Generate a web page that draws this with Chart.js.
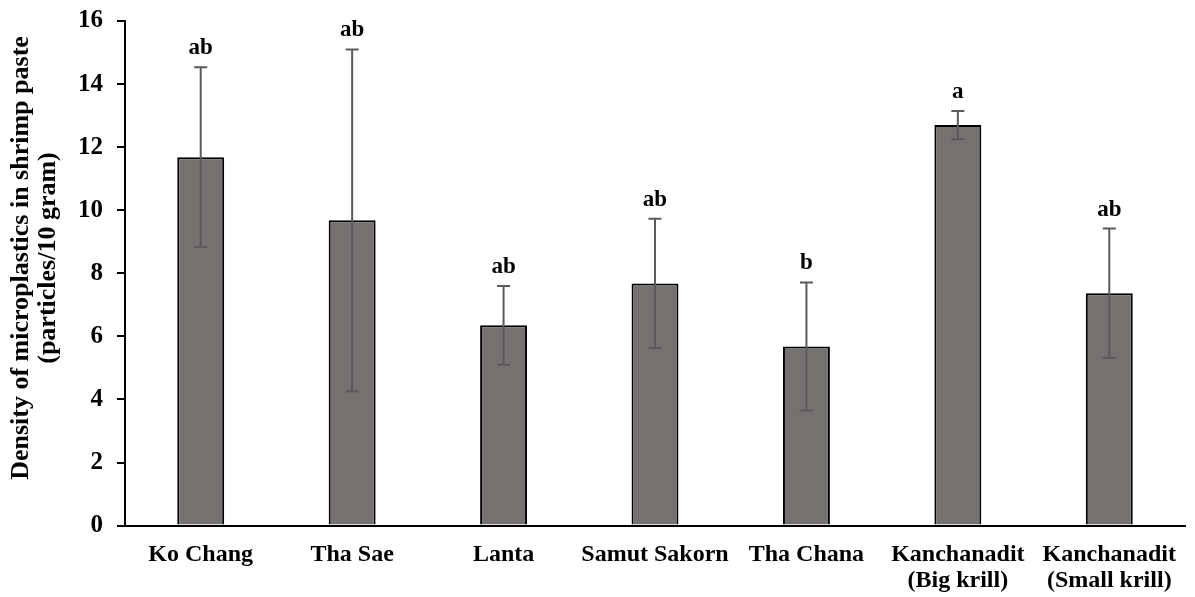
<!DOCTYPE html>
<html>
<head>
<meta charset="utf-8">
<script src="https://cdn.jsdelivr.net/npm/chart.js@4/dist/chart.umd.min.js"></script>
<style>
    html, body { margin: 0; padding: 0; background: #fff; }
    #wrap { width: 1195px; height: 597px; }
</style>
</head>
<body>
<div id="wrap"><canvas id="chart"></canvas></div>
<script>
// ============================================================
// DATA
// ============================================================
const sites = [
    'Ko Chang', 'Tha Sae', 'Lanta', 'Samut Sakorn', 'Tha Chana',
    ['Kanchanadit', '(Big krill)'], ['Kanchanadit', '(Small krill)']
];
const density = [11.68, 9.68, 6.35, 7.68, 5.68, 12.70, 7.37];
const densitySd = [2.85, 5.42, 1.25, 2.05, 2.03, 0.45, 2.05];
const groupLetters = ['ab', 'ab', 'ab', 'ab', 'b', 'a', 'ab'];
const yTicks = [0, 2, 4, 6, 8, 10, 12, 14, 16];
const yTitle = ['Density of microplastics in shrimp paste', '(particles/10 gram)'];

const FONT = "'Liberation Serif', 'Times New Roman', serif";

// ============================================================
// ERROR BARS + SIGNIFICANCE LETTERS
// ============================================================
const errorBarPlugin = {
    id: 'errorBars',
    afterDatasetsDraw: function (chart) {
        var ctx = chart.ctx;
        var meta = chart.getDatasetMeta(0);
        var y = chart.scales.y;
        ctx.save();
        meta.data.forEach(function (bar, i) {
            var hi = y.getPixelForValue(density[i] + densitySd[i]);
            var lo = y.getPixelForValue(density[i] - densitySd[i]);
            var cx = bar.x;
            ctx.strokeStyle = '#5a5a5a';
            ctx.lineWidth = 2;
            ctx.beginPath();
            ctx.moveTo(cx, hi); ctx.lineTo(cx, lo);
            ctx.moveTo(cx - 6.5, hi); ctx.lineTo(cx + 6.5, hi);
            ctx.moveTo(cx - 6.5, lo); ctx.lineTo(cx + 6.5, lo);
            ctx.stroke();

            ctx.fillStyle = '#000';
            ctx.font = 'bold 23px ' + FONT;
            ctx.textAlign = 'center';
            ctx.textBaseline = 'alphabetic';
            ctx.fillText(groupLetters[i], cx, hi - 13);
        });
        ctx.restore();
    }
};

// y title sits a bit above the plot centre in the original, so draw it by hand
const yTitlePlugin = {
    id: 'yTitle',
    afterDraw: function (chart) {
        var ctx = chart.ctx;
        ctx.save();
        ctx.fillStyle = '#000';
        ctx.font = 'bold 26px ' + FONT;
        ctx.textAlign = 'center';
        ctx.textBaseline = 'alphabetic';
        [28, 55].forEach(function (bx, i) {
            ctx.save();
            ctx.translate(bx, 258);
            ctx.rotate(-Math.PI / 2);
            ctx.fillText(yTitle[i], 0, 0);
            ctx.restore();
        });
        ctx.restore();
    }
};

new Chart(document.getElementById('chart'), {
    type: 'bar',
    data: {
        labels: sites,
        datasets: [{
            data: density,
            backgroundColor: '#767171',
            borderColor: '#000',
            borderWidth: 2,
            categoryPercentage: 1,
            barPercentage: 0.31
        }]
    },
    options: {
        responsive: true,
        maintainAspectRatio: false,
        animation: false,
        layout: { padding: { top: 0, right: 10, left: 14, bottom: -13 } },
        plugins: {
            legend: { display: false },
            tooltip: { enabled: false }
        },
        scales: {
            x: {
                grid: { display: false, drawTicks: false },
                border: { color: '#000', width: 2 },
                ticks: {
                    color: '#000',
                    padding: 17,
                    maxRotation: 0,
                    autoSkip: false,
                    font: { size: 24, weight: 'bold', family: FONT, lineHeight: 1.05 }
                }
            },
            y: {
                min: 0,
                max: 16,
                afterBuildTicks: function (axis) {
                    axis.ticks = yTicks.map(function (v) { return { value: v }; });
                },
                afterFit: function (axis) {
                    axis.width = 111;
                    axis.paddingTop = 21;
                },
                grid: { drawOnChartArea: false, drawTicks: true, tickLength: 8, color: '#000', lineWidth: 2 },
                border: { color: '#000', width: 2 },
                ticks: {
                    color: '#000',
                    padding: 14,
                    font: { size: 25, weight: 'bold', family: FONT }
                },
                title: { display: false }
            }
        }
    },
    plugins: [errorBarPlugin, yTitlePlugin]
});
</script>
</body>
</html>
